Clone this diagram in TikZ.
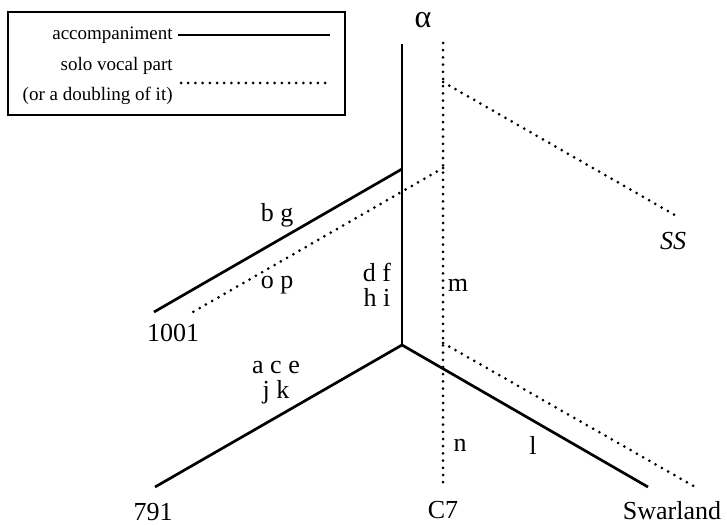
\documentclass[tikz,border=0pt]{standalone}
\usepackage{fontspec}
\setmainfont{Liberation Serif}
\usetikzlibrary{positioning}

\begin{document}
\begin{tikzpicture}[
  x=0.5pt,
  y=-0.5pt,
  lab/.style={font=\fontsize{13}{12.5}\selectfont, align=center, inner sep=1pt},
  keytext/.style={font=\fontsize{9.5}{15}\selectfont, align=right, inner sep=1pt, anchor=east},
  accomp/.style={line width=1.35pt},
  vocal/.style={line width=1.5pt, line cap=round, dash pattern=on 0pt off 3.6pt},
  keybox/.style={draw, line width=0.7pt, minimum width=168.5pt, minimum height=51.5pt, inner sep=0pt}
]
  \useasboundingbox (0,0) rectangle (727,524);

  % Legend box in the top left corner.
  \node[keybox] at (176.5,63.5) (legend) {};
  \node[keytext] at (175,35) (accomplab) {accompaniment};
  \node[keytext] at (175,81) (vocallab)  {solo vocal part\\(or a doubling of it)};
  \coordinate (accompA) at (178,35);
  \coordinate (accompB) at (330,35);
  \coordinate (vocalA)  at (181,83);
  \coordinate (vocalB)  at (330,83);
  \draw[accomp] (accompA) -- (accompB);
  \draw[vocal]  (vocalA)  -- (vocalB);

  % End labels of the branches.
  \node[lab, font=\fontsize{16}{16}\selectfont] at (423,20) (alpha) {α};
  \node[lab] at (673,241) (ss)       {\itshape SS};
  \node[lab] at (173,333) (ms1001)   {1001};
  \node[lab] at (153,512) (ms791)    {791};
  \node[lab] at (443,510) (c7)       {C7};
  \node[lab] at (672,511) (swarland) {Swarland};

  % Accompaniment tree (solid).
  \coordinate (topA)     at (402,44);
  \coordinate (forkA)    at (402,169);
  \coordinate (forkB)    at (402,345);
  \coordinate (end1001)  at (154,312);
  \coordinate (end791)   at (155,487);
  \coordinate (endSwar)  at (648,487);
  \draw[accomp] (topA) -- (forkA) -- (forkB);
  \draw[accomp] (forkA) -- (end1001);
  \draw[accomp] (forkB) -- (end791);
  \draw[accomp] (forkB) -- (endSwar);

  % Vocal part tree (dotted).
  \coordinate (vtop)     at (443,43);
  \coordinate (vbot)     at (443,488);
  \coordinate (vforkSS)  at (443,82);
  \coordinate (vendSS)   at (680,218);
  \coordinate (vfork1001) at (443,168);
  \coordinate (vend1001) at (193,312);
  \coordinate (vforkSw)  at (443,343);
  \coordinate (vendSw)   at (697,488);
  \draw[vocal] (vtop) -- (vbot);
  \draw[vocal] (vforkSS) -- (vendSS);
  \draw[vocal] (vfork1001) -- (vend1001);
  \draw[vocal] (vforkSw) -- (vendSw);

  % Branch labels.
  \node[lab] at (277,215) (bg)   {b g};
  \node[lab] at (277,285) (op)   {o p};
  \node[lab] at (377,285) (dfhi) {d f\\h i};
  \node[lab] at (458,285) (m)    {m};
  \node[lab] at (276,383) (acejk){a c e\\j k};
  \node[lab] at (460,445) (n)    {n};
  \node[lab] at (533,445) (l)    {l};

\end{tikzpicture}
\end{document}
